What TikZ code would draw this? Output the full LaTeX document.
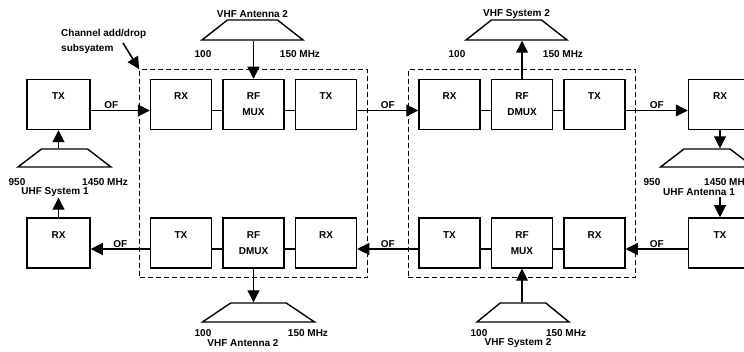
\documentclass[tikz,border=0pt]{standalone}
\usepackage{fontspec}
\setmainfont{Liberation Sans}
\usetikzlibrary{shapes.geometric, arrows.meta, positioning, fit}

\begin{document}
\begin{tikzpicture}[
    x=1pt, y=-1pt,
    node distance=10pt,
    every node/.style={font=\fontsize{10}{16}\selectfont\bfseries},
    unit/.style={rectangle, draw, line width=1.5pt, minimum width=61pt, minimum height=50pt, align=center, inner sep=0pt},
    term/.style={unit, minimum width=63pt},
    chan/.style={draw, line width=1.3pt, dash pattern=on 5pt off 3pt, inner xsep=10pt, inner ysep=9pt},
    ant/.style={trapezium, draw, line width=1.4pt, trapezium angle=63, trapezium stretches=true, minimum width=93pt, minimum height=18pt, inner sep=1pt},
    lab/.style={inner sep=1pt},
    link/.style={line width=1.1pt},
    arr/.style={link, -{Triangle[length=12pt, width=12pt]}}
  ]
  \useasboundingbox (0,0) rectangle (744,352);

  % upper chain
  \node[unit] (rx1) at (181,104.5) {RX\\\mbox{}};
  \node[unit, right=of rx1] (mux1) {RF\\MUX};
  \node[unit, right=of mux1] (tx1) {TX\\\mbox{}};
  \node[unit, right=61pt of tx1] (rx2) {RX\\\mbox{}};
  \node[unit, right=of rx2] (dmux2) {RF\\DMUX};
  \node[unit, right=of dmux2] (tx2) {TX\\\mbox{}};
  \node[term, left=59pt of rx1] (txL) {TX\\\mbox{}};
  \node[term, right=62pt of tx2] (rxR) {RX\\\mbox{}};

  % lower chain
  \node[unit, below=87pt of rx1] (tx3) {TX\\\mbox{}};
  \node[unit, below=87pt of mux1] (dmux3) {RF\\DMUX};
  \node[unit, below=87pt of tx1] (rx3) {RX\\\mbox{}};
  \node[unit, below=87pt of rx2] (tx4) {TX\\\mbox{}};
  \node[unit, below=87pt of dmux2] (mux4) {RF\\MUX};
  \node[unit, below=87pt of tx2] (rx4) {RX\\\mbox{}};
  \node[term, below=87pt of txL] (rxL) {RX\\\mbox{}};
  \node[term, below=87pt of rxR] (txR) {TX\\\mbox{}};

  % add/drop subsystems
  \node[chan, fit=(rx1)(rx3)] (chan1) {};
  \node[chan, fit=(rx2)(rx4)] (chan2) {};
  \node[lab, align=left, anchor=west, font=\fontsize{10}{15}\selectfont\bfseries] (note) at (60,41.5) {Channel add/drop\\subsyatem};
  \coordinate (notetip) at (123,43);
  \draw[line width=1.6pt, -{Triangle[length=12pt, width=12pt]}] (notetip) -- (chan1.north west);

  % antennas and systems
  \node[ant] (sys1) at (64.5,158) {};
  \node[ant] (ant1) at (707,158) {};
  \node[ant, minimum width=101pt, minimum height=20pt] (vantT) at (252.5,30) {};
  \node[ant, minimum width=101pt, minimum height=20pt] (vsysT) at (516.5,30) {};
  \node[ant, minimum width=112pt, minimum height=19pt] (vantB) at (258.5,312.5) {};
  \node[ant, minimum width=92pt, minimum height=19pt] (vsysB) at (523,312.5) {};

  \node[lab, above=0pt of vantT] (vantTt) {VHF Antenna 2};
  \node[lab] (vantTlo) at (203,54) {100};
  \node[lab] (vantThi) at (300,54) {150 MHz};
  \node[lab, above=0pt of vsysT] (vsysTt) {VHF System 2};
  \node[lab] (vsysTlo) at (457,54) {100};
  \node[lab] (vsysThi) at (563,54) {150 MHz};
  \node[lab] (sys1lo) at (17,182) {950};
  \node[lab] (sys1hi) at (105,182) {1450 MHz};
  \node[lab] (sys1t) at (55,192) {UHF System 1};
  \node[lab] (ant1lo) at (652,182) {950};
  \node[lab] (ant1hi) at (727,182) {1450 MHz};
  \node[lab] (ant1t) at (699,192) {UHF Antenna 1};
  \node[lab] (vantBlo) at (203,333) {100};
  \node[lab] (vantBhi) at (308,333) {150 MHz};
  \node[lab] (vantBt) at (243,343) {VHF Antenna 2};
  \node[lab] (vsysBlo) at (479,333) {100};
  \node[lab] (vsysBhi) at (566,333) {150 MHz};
  \node[lab] (vsysBt) at (518,343) {VHF System 2};

  % links inside the subsystems
  \foreach \a/\b in {rx1/mux1, mux1/tx1, rx2/dmux2, dmux2/tx2, tx3/dmux3, dmux3/rx3, tx4/mux4, mux4/rx4}
    \draw[link] ([yshift=-6pt]\a.east) -- ([yshift=-6pt]\b.west);

  % optical fibre spans
  \draw[arr] ([yshift=-6pt]txL.east) -- node[lab, above, pos=0.35] (of1) {OF} ([yshift=-6pt]rx1.west);
  \draw[arr] ([yshift=-6pt]tx1.east) -- node[lab, above] (of2) {OF} ([yshift=-6pt]rx2.west);
  \draw[arr] ([yshift=-6pt]tx2.east) -- node[lab, above] (of3) {OF} ([yshift=-6pt]rxR.west);
  \draw[arr] ([yshift=-6pt]txR.west) -- node[lab, above] (of4) {OF} ([yshift=-6pt]rx4.east);
  \draw[arr] ([yshift=-6pt]tx4.west) -- node[lab, above] (of5) {OF} ([yshift=-6pt]rx3.east);
  \draw[arr] ([yshift=-6pt]tx3.west) -- node[lab, above] (of6) {OF} ([yshift=-6pt]rxL.east);

  % RF feeds
  \draw[arr] (sys1.north -| txL.south) -- (txL.south);
  \draw[arr] (vantT.south -| mux1.north) -- (mux1.north);
  \draw[arr] (dmux2.north) -- (dmux2.north |- vsysT.south);
  \draw[arr] (rxR.south) -- (rxR.south |- ant1.north);
  \draw[arr] (txR.north |- ant1t.south) -- (txR.north);
  \draw[arr] (rxL.north) -- (rxL.north |- sys1t.south);
  \draw[arr] (dmux3.south) -- (dmux3.south |- vantB.north);
  \draw[arr] (vsysB.north -| mux4.south) -- (mux4.south);
\end{tikzpicture}
\end{document}
